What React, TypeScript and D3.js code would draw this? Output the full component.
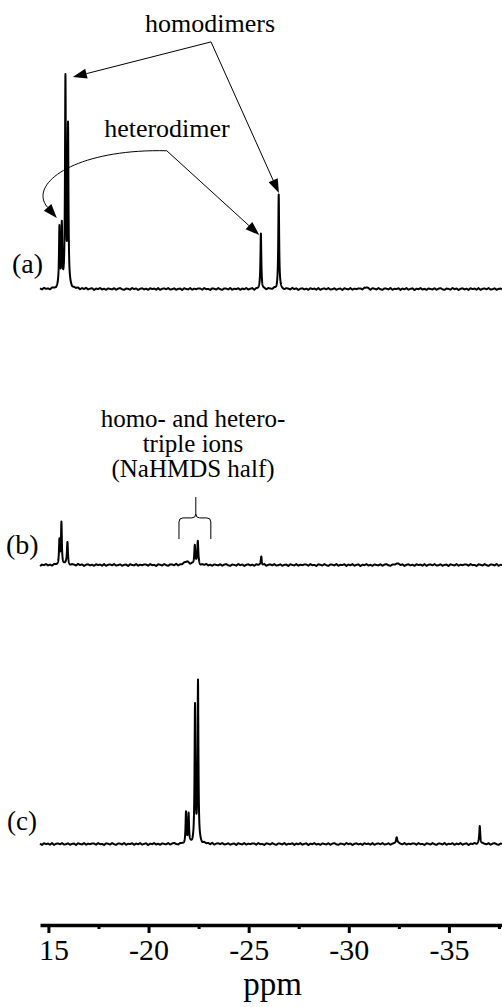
import React, { useEffect, useRef } from "react";
import * as d3 from "d3";

// ---- data (ppm, intensity in arbitrary units, tallest = 100) ----
const peaksA_ppm = [-15.55, -15.67, -15.85, -15.98, -25.61, -26.5, -30.9];
const peaksA_int = [27.5, 28.5, 96, 74, 25.5, 43.5, 0.8];
const peaksA_wid = [0.025, 0.025, 0.025, 0.025, 0.025, 0.025, 0.08];

const peaksB_ppm = [-15.55, -15.65, -15.95, -21.9, -22.31, -22.46, -25.63, -32.39];
const peaksB_int = [11, 19.5, 10.5, 1.8, 9.0, 10.5, 4.0, 0.9];
const peaksB_wid = [0.025, 0.025, 0.03, 0.12, 0.03, 0.03, 0.025, 0.06];

const peaksC_ppm = [-21.87, -22.0, -22.32, -22.47, -32.39, -36.54];
const peaksC_int = [14, 13.5, 63, 74.5, 3.5, 8.5];
const peaksC_wid = [0.025, 0.025, 0.025, 0.025, 0.04, 0.03];

// hand-read baseline wiggle (intensity units), sampled every 0.1 ppm
const baselineNoise = [
  0.2, -0.3, 0.4, -0.1, 0.05, -0.45, 0.3, 0.1, -0.25, 0.4, -0.1, -0.4, 0.25, 0.15, -0.2, 0.45,
  -0.35, 0.1, -0.05, 0.35, -0.4, 0.2, -0.15, 0.4, -0.3, 0.05, 0.3, -0.5, 0.15, -0.1, 0.4, -0.25,
  0.1, -0.4, 0.25, 0.0, -0.2, 0.35, -0.35, 0.15, 0.4, -0.15, -0.4, 0.2, 0.05, -0.3, 0.45, -0.1,
  0.25, -0.45, 0.1, 0.3, -0.2, 0.15, -0.4, 0.35, -0.05, 0.2, -0.3, 0.4, -0.4, 0.1, 0.25, -0.15,
  0.4, -0.25, -0.1, 0.3, -0.35, 0.05, 0.2, -0.45, 0.35, 0.0, -0.2, 0.4, -0.3, 0.15, -0.1, 0.25,
];

const majorTicks = [-15, -20, -25, -30, -35];
const minorTicks = [-17.5, -22.5, -27.5, -32.5, -37.5];
const tickLabels = ["15", "-20", "-25", "-30", "-35"];

const ppmDomain = [-14.58, -37.65];

// annotation anchors in spectrum (a) / (b) data coordinates
const homoLabel = { ppm: -23.07, int: 119 };
const homoVertex = { ppm: -23.12, int: 114.4 };
const homoTips = [
  { ppm: -16.22, int: 98.1 },
  { ppm: -26.51, int: 44.4 },
];
const heteroLabel = { ppm: -20.92, int: 70.4 };
const heteroVertex = { ppm: -20.91, int: 64.0 };
const heteroTipRight = { ppm: -25.53, int: 25.0 };
const heteroCurve = [
  { ppm: -20.91, int: 64.0 },
  { ppm: -16.3, int: 65.0 },
  { ppm: -13.95, int: 48.5 },
  { ppm: -15.42, int: 32.9 },
];
const tripleLines = ["homo- and hetero-", "triple ions", "(NaHMDS half)"];
const tripleLabel = { ppm: -22.22, ints: [63.9, 52.3, 40.7] };
const bracket = { left: -21.52, right: -23.11, mid: -22.36, bottom: 12, bar: 21.8, top: 31.5 };

const W = 502;
const H = 1007;
const FONT = "Liberation Serif";

function buildSpectrum(ppms: number[], ints: number[], wids: number[], noiseOffset: number) {
  const pts: [number, number][] = [];
  const start = ppmDomain[0];
  const end = ppmDomain[1];
  const step = -0.005;
  const n = Math.round((end - start) / step);
  for (let i = 0; i <= n; i++) {
    const p = start + i * step;
    let v = 0;
    for (let k = 0; k < ppms.length; k++) {
      const d = (p - ppms[k]) / wids[k];
      v += ints[k] / (1 + d * d);
    }
    const pos = (start - p) / 0.1 + noiseOffset;
    const i0 = Math.floor(pos);
    const f = pos - i0;
    const L = baselineNoise.length;
    const a = baselineNoise[((i0 % L) + L) % L];
    const b = baselineNoise[(((i0 + 1) % L) + L) % L];
    v += a + (b - a) * f;
    pts.push([p, v]);
  }
  return pts;
}

export default function App() {
  const axisRef = useRef<SVGGElement>(null);

  const x = d3.scaleLinear().domain(ppmDomain).range([40, 502]);
  const yA = d3.scaleLinear().domain([0, 100]).range([289, 73]);
  const yB = d3.scaleLinear().domain([0, 100]).range([565, 349]);
  const yC = d3.scaleLinear().domain([0, 100]).range([844, 628]);

  const specA = buildSpectrum(peaksA_ppm, peaksA_int, peaksA_wid, 0);
  const specB = buildSpectrum(peaksB_ppm, peaksB_int, peaksB_wid, 27);
  const specC = buildSpectrum(peaksC_ppm, peaksC_int, peaksC_wid, 53);

  const lineFor = (y: d3.ScaleLinear<number, number>) =>
    d3
      .line<[number, number]>()
      .x((d) => x(d[0]))
      .y((d) => y(d[1]));

  useEffect(() => {
    if (!axisRef.current) return;
    const g = d3.select(axisRef.current);
    g.selectAll("*").remove();
    const major = d3
      .axisBottom(x)
      .tickValues(majorTicks)
      .tickSize(8)
      .tickSizeOuter(0)
      .tickPadding(6)
      .tickFormat((d, i) => tickLabels[i]);
    const gm = g.append("g").call(major);
    gm.attr("font-family", FONT).attr("font-size", 30);
    gm.select(".domain").attr("stroke", "#000").attr("stroke-width", 3.5);
    gm.selectAll(".tick line").attr("stroke", "#000").attr("stroke-width", 3);
    gm.selectAll(".tick text")
      .attr("fill", "#000")
      .attr("font-size", 30)
      .attr("font-family", FONT)
      .attr("dx", (d: any) => (d === -15 ? 5 : 0));
    const minor = d3
      .axisBottom(x)
      .tickValues(minorTicks)
      .tickSize(4)
      .tickSizeOuter(0)
      .tickFormat(() => "");
    const gn = g.append("g").call(minor);
    gn.select(".domain").remove();
    gn.selectAll(".tick line").attr("stroke", "#000").attr("stroke-width", 3);
  }, []);

  const arrowHead = (tx: number, ty: number, fx: number, fy: number, len = 14, hw = 5) => {
    const ang = Math.atan2(ty - fy, tx - fx);
    const bx = tx - len * Math.cos(ang);
    const by = ty - len * Math.sin(ang);
    const px = -Math.sin(ang) * hw;
    const py = Math.cos(ang) * hw;
    return {
      poly: `${tx},${ty} ${bx + px},${by + py} ${bx - px},${by - py}`,
      bx,
      by,
    };
  };

  const hv = [x(homoVertex.ppm), yA(homoVertex.int)];
  const homoArrows = homoTips.map((t) => {
    const tx = x(t.ppm);
    const ty = yA(t.int);
    const h = arrowHead(tx, ty, hv[0], hv[1]);
    return { ...h, tx, ty };
  });

  const hetV = [x(heteroVertex.ppm), yA(heteroVertex.int)];
  const hetR = (() => {
    const tx = x(heteroTipRight.ppm);
    const ty = yA(heteroTipRight.int);
    return { ...arrowHead(tx, ty, hetV[0], hetV[1]), tx, ty };
  })();
  const cp = heteroCurve.map((c) => [x(c.ppm), yA(c.int)]);
  const curveHead = arrowHead(cp[3][0], cp[3][1], cp[2][0], cp[2][1]);
  const curvePath = d3.path();
  curvePath.moveTo(cp[0][0], cp[0][1]);
  curvePath.bezierCurveTo(cp[1][0], cp[1][1], cp[2][0], cp[2][1], curveHead.bx, curveHead.by);

  const bL = x(bracket.left);
  const bR = x(bracket.right);
  const bM = x(bracket.mid);
  const bBot = yB(bracket.bottom);
  const bBar = yB(bracket.bar);
  const bTop = yB(bracket.top);
  const r = 4;
  const bracketPath = `M${bL},${bBot} L${bL},${bBar + r} Q${bL},${bBar} ${bL + r},${bBar} L${bM - r},${bBar} Q${bM},${bBar} ${bM},${bBar - r} L${bM},${bTop} M${bM},${bBar - r} Q${bM},${bBar} ${bM + r},${bBar} L${bR - r},${bBar} Q${bR},${bBar} ${bR},${bBar + r} L${bR},${bBot}`;

  const T = { fontFamily: FONT, fill: "#000" } as const;

  return (
    <svg
      width={W}
      height={H}
      style={{ position: "absolute", left: 0, top: 0, background: "#fff" }}
    >
      <rect x={0} y={0} width={W} height={H} fill="#fff" />
      <path d={lineFor(yA)(specA) || ""} fill="none" stroke="#000" strokeWidth={2} strokeLinejoin="round" />
      <path d={lineFor(yB)(specB) || ""} fill="none" stroke="#000" strokeWidth={2} strokeLinejoin="round" />
      <path d={lineFor(yC)(specC) || ""} fill="none" stroke="#000" strokeWidth={2} strokeLinejoin="round" />

      <text x={12} y={273} fontSize={28} {...T}>(a)</text>
      <text x={6} y={554} fontSize={28} {...T}>(b)</text>
      <text x={7} y={830} fontSize={27} {...T}>(c)</text>

      {/* homodimers */}
      <text x={x(homoLabel.ppm)} y={yA(homoLabel.int)} fontSize={26} textAnchor="middle" {...T}>
        homodimers
      </text>
      {homoArrows.map((a, i) => (
        <g key={i}>
          <line x1={hv[0]} y1={hv[1]} x2={a.bx} y2={a.by} stroke="#000" strokeWidth={1} />
          <polygon points={a.poly} fill="#000" />
        </g>
      ))}

      {/* heterodimer */}
      <text x={x(heteroLabel.ppm)} y={yA(heteroLabel.int)} fontSize={26} textAnchor="middle" {...T}>
        heterodimer
      </text>
      <line x1={hetV[0]} y1={hetV[1]} x2={hetR.bx} y2={hetR.by} stroke="#000" strokeWidth={1} />
      <polygon points={hetR.poly} fill="#000" />
      <path d={curvePath.toString()} fill="none" stroke="#000" strokeWidth={1} />
      <polygon points={curveHead.poly} fill="#000" />

      {/* triple ions */}
      {tripleLines.map((t, i) => (
        <text
          key={i}
          x={x(tripleLabel.ppm)}
          y={yB(tripleLabel.ints[i])}
          fontSize={25}
          textAnchor="middle"
          {...T}
        >
          {t}
        </text>
      ))}
      <path d={bracketPath} fill="none" stroke="#000" strokeWidth={1} />

      <g ref={axisRef} transform="translate(0,925)" />
      <text x={x(-26.2)} y={995} fontSize={33} textAnchor="middle" {...T}>
        ppm
      </text>
    </svg>
  );
}
